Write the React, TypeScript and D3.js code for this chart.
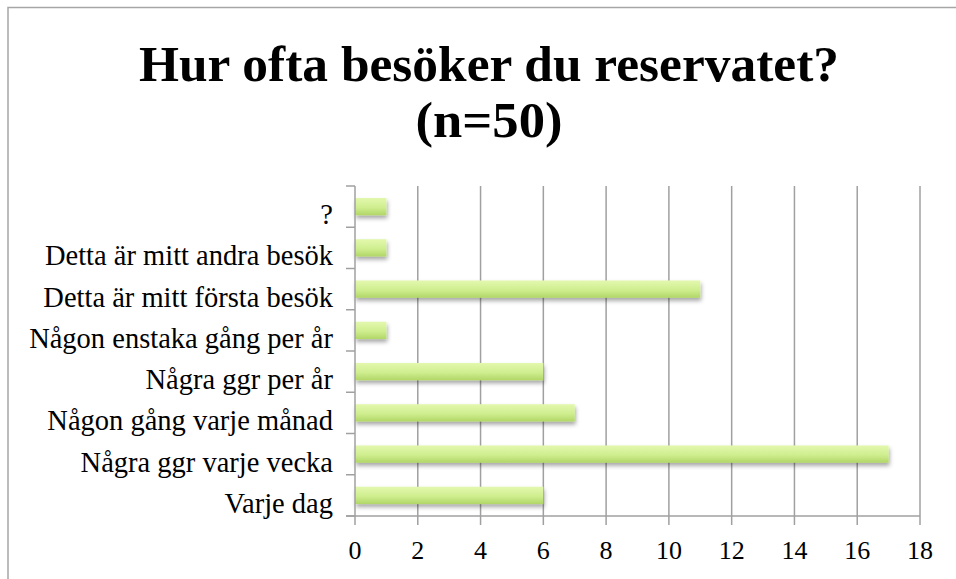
import React, { useEffect, useRef } from "react";
import * as d3 from "d3";

// answers, top to bottom as they appear in the chart
const categories = [
  "?",
  "Detta är mitt andra besök",
  "Detta är mitt första besök",
  "Någon enstaka gång per år",
  "Några ggr per år",
  "Någon gång varje månad",
  "Några ggr varje vecka",
  "Varje dag",
];
const counts = [1, 1, 11, 1, 6, 7, 17, 6];
const xTicks = [0, 2, 4, 6, 8, 10, 12, 14, 16, 18];
const titleLines = ["Hur ofta besöker du reservatet?", "(n=50)"];

const width = 956;
const height = 579;
const plot = { left: 355, right: 920, top: 186, bottom: 516 };

const App = () => {
  const svgRef = useRef<SVGSVGElement>(null);

  useEffect(() => {
    const svg = d3.select(svgRef.current);
    svg.selectAll("*").remove();

    const defs = svg.append("defs");
    const grad = defs
      .append("linearGradient")
      .attr("id", "barGrad")
      .attr("x1", 0)
      .attr("y1", 0)
      .attr("x2", 0)
      .attr("y2", 1);
    grad.append("stop").attr("offset", "0%").attr("stop-color", "#e3f8ae");
    grad.append("stop").attr("offset", "55%").attr("stop-color", "#cfee8f");
    grad.append("stop").attr("offset", "100%").attr("stop-color", "#b1d667");

    const shadow = defs
      .append("filter")
      .attr("id", "barShadow")
      .attr("x", "-10%")
      .attr("y", "-50%")
      .attr("width", "130%")
      .attr("height", "250%");
    shadow
      .append("feDropShadow")
      .attr("dx", 1)
      .attr("dy", 3)
      .attr("stdDeviation", 2)
      .attr("flood-color", "#000")
      .attr("flood-opacity", 0.35);

    // outer chart border (only top and left visible in the crop)
    svg
      .append("rect")
      .attr("x", 8)
      .attr("y", 7.5)
      .attr("width", width + 20)
      .attr("height", height + 20)
      .attr("fill", "none")
      .attr("stroke", "#a6a6a6")
      .attr("stroke-width", 1.5);

    const x = d3
      .scaleLinear()
      .domain([0, 18])
      .range([plot.left, plot.right]);

    // category slots; bars sit in the middle of each slot
    const y = d3
      .scaleBand()
      .domain(categories)
      .range([plot.top, plot.bottom])
      .padding(0);
    const bw = y.bandwidth();
    const barH = bw * 0.42;

    // vertical gridlines
    svg
      .append("g")
      .selectAll("line")
      .data(xTicks.slice(1))
      .join("line")
      .attr("x1", (d) => x(d))
      .attr("x2", (d) => x(d))
      .attr("y1", plot.top)
      .attr("y2", plot.bottom)
      .attr("stroke", "#a0a0a0")
      .attr("stroke-width", 1.5);

    // bars
    svg
      .append("g")
      .selectAll("rect")
      .data(categories)
      .join("rect")
      .attr("x", x(0))
      .attr("y", (c) => (y(c) as number) + (bw - barH) / 2)
      .attr("width", (_, i) => x(counts[i]) - x(0))
      .attr("height", barH)
      .attr("fill", "url(#barGrad)")
      .attr("filter", "url(#barShadow)");

    // y axis line + ticks at slot boundaries
    const yAxis = svg.append("g");
    yAxis
      .append("line")
      .attr("x1", plot.left)
      .attr("x2", plot.left)
      .attr("y1", plot.top)
      .attr("y2", plot.bottom)
      .attr("stroke", "#a0a0a0")
      .attr("stroke-width", 1.5);
    yAxis
      .selectAll(".ytick")
      .data(d3.range(categories.length + 1))
      .join("line")
      .attr("class", "ytick")
      .attr("x1", plot.left - 9)
      .attr("x2", plot.left)
      .attr("y1", (i) => plot.top + i * bw)
      .attr("y2", (i) => plot.top + i * bw)
      .attr("stroke", "#a0a0a0")
      .attr("stroke-width", 1.5);
    // labels sit a little below the slot centre, like the original
    yAxis
      .selectAll("text")
      .data(categories)
      .join("text")
      .attr("x", 333)
      .attr("y", (c) => (y(c) as number) + bw / 2 + 17.5)
      .attr("text-anchor", "end")
      .attr("font-family", "'Liberation Serif', serif")
      .attr("font-size", 28.5)
      .attr("fill", "#000")
      .text((c) => c);

    // x axis
    const xAxis = svg.append("g");
    xAxis
      .append("line")
      .attr("x1", plot.left - 9)
      .attr("x2", plot.right)
      .attr("y1", plot.bottom)
      .attr("y2", plot.bottom)
      .attr("stroke", "#a0a0a0")
      .attr("stroke-width", 1.5);
    xAxis
      .selectAll(".xtick")
      .data(xTicks)
      .join("line")
      .attr("class", "xtick")
      .attr("x1", (d) => x(d))
      .attr("x2", (d) => x(d))
      .attr("y1", plot.bottom)
      .attr("y2", plot.bottom + 9)
      .attr("stroke", "#a0a0a0")
      .attr("stroke-width", 1.5);
    xAxis
      .selectAll("text")
      .data(xTicks)
      .join("text")
      .attr("x", (d) => x(d))
      .attr("y", 559)
      .attr("text-anchor", "middle")
      .attr("font-family", "'Liberation Serif', serif")
      .attr("font-size", 26)
      .attr("fill", "#000")
      .text((d) => d);

    // title
    const titleWidths = [700, 147];
    svg
      .append("g")
      .selectAll("text")
      .data(titleLines)
      .join("text")
      .attr("x", 489)
      .attr("y", (_, i) => 81 + i * 56)
      .attr("text-anchor", "middle")
      .attr("font-family", "'Liberation Serif', serif")
      .attr("font-weight", "bold")
      .attr("font-size", 50)
      .attr("textLength", (_, i) => titleWidths[i])
      .attr("lengthAdjust", "spacingAndGlyphs")
      .attr("fill", "#000")
      .text((d) => d);
  }, []);

  return (
    <svg
      ref={svgRef}
      width={width}
      height={height}
      style={{ position: "absolute", left: 0, top: 0, background: "#fff" }}
    />
  );
};

export default App;
